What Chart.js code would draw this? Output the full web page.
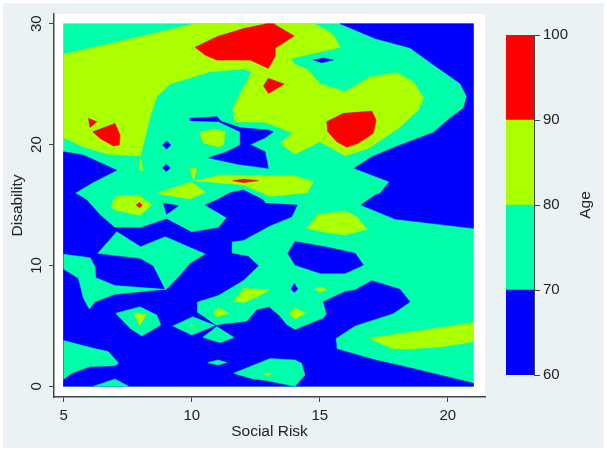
<!DOCTYPE html>
<html>
<head>
<meta charset="utf-8">
<script src="https://cdn.jsdelivr.net/npm/chart.js@4"></script>
<style>
  html, body { margin: 0; padding: 0; background: #ffffff; width: 607px; height: 452px; overflow: hidden; }
  #panel { position: absolute; left: 3px; top: 3px; width: 601px; height: 445px; background: #eaf2f3; }
  #contour { position: absolute; left: 0; top: 0; }
  #legend { position: absolute; left: 495px; top: 20px; }
</style>
</head>
<body>
<div id="panel"></div>
<canvas id="contour" width="607" height="452"></canvas>
<canvas id="legend" width="112" height="370"></canvas>
<script>
// Tick labels
const xTicks = [5, 10, 15, 20];
const yTicks = [0, 10, 20, 30];
const ageTicks = [60, 70, 80, 90, 100];

// Legend bands
const ageBands = [[60, 70], [70, 80], [80, 90], [90, 100]];

// Contour outlines as [Social Risk, Disability]
const tealBase = [[5,0],[21,0],[21,30],[5,30]];

const blueTopRight = [[15.79,30],[17.16,28.78],[18.52,28],[19.37,26.7],[20.48,25.06],[20.74,24],[20.61,23],[20.09,22.2],[19.44,21],[18.07,19.9],[17.03,19],[16.35,18.03],[17.72,16.93],[17.35,15.96],[17.16,15.83],[16.61,15],[17.94,13.84],[21,13.07],[21,30]];
const blueLower = [[5,0],[21,0],[21,0.25],[18.59,1.49],[17.16,2.18],[15.66,3.09],[15.62,3.97],[16.38,5.02],[17.87,6.04],[18.52,7],[18.13,8.02],[17.03,8.74],[16.38,7.97],[15.98,7.83],[15.14,7],[15.27,5.96],[15.14,5.62],[14.03,4.66],[13.71,5.07],[13.38,5.9],[13.02,6.53],[12.54,6.31],[12.15,5.35],[11.24,5.13],[10.95,5.02],[10.2,6.12],[10.2,7],[11.04,7.55],[12.02,8.8],[12.6,9.98],[12.21,10.73],[11.56,11],[11.56,11.97],[12.02,12.1],[13.06,13.3],[13.9,14.03],[14.12,15],[12.86,15.14],[12.8,15.41],[12.02,16.24],[11.5,16.02],[10.98,15.41],[10.52,15],[11.37,13.95],[11.04,13.12],[10,12.74],[9.02,13.84],[8,13.12],[7,13.12],[6.42,14.17],[5.9,15.41],[5.44,16],[6.16,16.91],[7.07,17.87],[5.77,19.13],[5,19.4]];
const blueCentre = [[9.93,22.17],[10.98,22.3],[11.17,21.9],[11.89,21.4],[12.97,21.2],[13.19,21.06],[12.86,20.57],[12.28,20],[12.86,19.41],[12.99,18.03],[11.76,18.39],[10.65,18.9],[11.37,19.41],[11.89,19.96],[11.89,21.06],[11.04,21.9],[9.93,21.97]];
const blueWedge = [[8.89,15.14],[9.48,14.94],[9.02,14.23]];
const blueHole = [[14.03,11.97],[15.2,11.55],[16.38,11],[16.7,10.04],[15.99,9.35],[15.01,9.35],[14.03,10.04],[13.75,11]];

const tealLeftA = [[5,10.92],[6.03,10.64],[6.22,9.9],[6.25,8.99],[7,8.33],[8.96,8.02],[7,7.61],[6.22,7],[6,6.4],[5.77,7.28],[5.57,8.93],[5,9.7]];
const tealLeftB = [[7.07,12.79],[8,11.55],[8.96,12.38],[10.52,10.95],[9.93,10.17],[9.48,9.07],[8.98,7.97],[8.5,9.98],[7.98,10.59],[6.33,11]];
const tealDiamondA = [[7.03,6.04],[7.98,6.59],[8.63,5.9],[8.79,5.07],[8.05,4.16],[7.59,4.8]];
const tealDiamondB = [[9.26,4.99],[10.04,5.76],[10.91,5.02],[10,4.25]];
const tealDiamondC = [[10.98,4.94],[11.65,4.03],[11.11,3.61],[10.43,4.05]];
const tealSpeck = [[10.63,1.96],[11.02,2.18],[11.37,1.96],[11.02,1.76]];
const tealCornerA = [[5,3.78],[6.16,3.14],[6.74,2.87],[7.14,1.9],[7,1.7],[6.03,1.63],[5.31,1.08],[5,0.58]];
const tealCornerB = [[6.16,0],[7,0.6],[7.53,0]];
const tealFoot = [[11.63,1.08],[12.28,1.63],[13.06,2.3],[14.03,2.18],[14.29,1.9],[14.42,0.94],[14.03,0],[12.86,0.5],[12.41,0.6]];

const limeMain = [[5,27.47],[10.13,30],[14.75,30],[15.27,29.47],[15.53,29.06],[15.79,28.04],[13.9,27.13],[13.97,26.72],[14.55,26.16],[15,25.06],[15.99,24.37],[16.96,25.6],[18,25.97],[18.65,25.2],[19.05,23.9],[18.85,22.86],[18.07,21.34],[16.9,19.69],[15.99,19.08],[15,20.24],[14.03,19.2],[13.45,20.1],[13.93,20.98],[12.86,21.84],[11.69,21.89],[11.6,22.99],[12.34,26.03],[12.02,26.25],[10.72,26.03],[9.15,25],[8.63,23.96],[8.37,22.3],[8,19.05],[6.74,19.2],[5.77,19.82],[5,20.54]];
const limeIsland = [[10.3,20.98],[10.85,21.26],[11.3,21.06],[11.24,19.96],[11.04,19.82],[10.46,20.1]];
const limeSliver = [[8,18.86],[8.09,17.84],[7.94,17.95]];
const limeSpike = [[9.93,18.03],[10.2,18.03],[10.07,17.01]];
const limeKite = [[8.63,15.96],[10,16.93],[10.52,16.05],[9.93,15.5]];
const limeStrip = [[10.13,17],[11.1,17.48],[14.03,17.42],[14.75,16.93],[14.5,16.02],[13.06,15.71],[12.02,16.65]];
const limeLeftBlob = [[6.85,14.86],[7,15.69],[7.92,15.83],[8.44,15],[7.98,14.12],[7,14.58]];
const limeMidBlob = [[14.49,13.07],[14.94,14.23],[15.99,14.5],[16.44,14.03],[16.83,12.99],[15.99,12.52],[15.2,12.74]];
const limeDashA = [[11.63,7],[12.02,8.1],[13.05,8],[12.8,7.69],[12.08,6.95]];
const limeDashB = [[10.85,6.04],[11.04,6.5],[11.43,6.04],[10.98,5.76]];
const limeDashC = [[7.72,6.04],[8.24,6.04],[7.98,5.02]];
const limeDashD = [[14.81,8.02],[15.05,8.24],[15.27,7.97],[15,7.78]];
const limeDashE = [[13.8,6.04],[14.03,6.5],[14.45,6.04],[14.03,5.57]];
const limeRight = [[16.92,3.97],[21,5.27],[21,3.69],[19.76,3.28],[18.33,3.06],[17.8,3.14]];
const limeDotA = [[9.95,4.99],[10.03,5.05],[10.1,4.97],[10.02,4.9]];
const limeDotB = [[12.8,1],[12.95,1.15],[13.1,1.02],[12.95,0.9]];

const redTop = [[10.13,28.04],[10.98,28.92],[12.02,29.6],[12.93,30],[13.19,30],[14,28.98],[13.25,27.96],[13.25,27.27],[12.99,26.3],[12.28,26.99],[10.98,26.99],[10.52,27.4]];
const redSmall = [[12.99,25.48],[13.61,25],[13,24.23],[12.8,24.85]];
const redRight = [[15.27,21.89],[15.92,22.58],[17.03,22.77],[17.2,22.03],[17.09,20.93],[16.5,20.1],[16.05,19.77],[15.66,20.24],[15.31,21.06]];
const redTick = [[5.96,22.17],[6.29,21.89],[6.03,21.42]];
const redLeft = [[6.13,21.06],[7,21.75],[7.2,20.79],[7.17,19.96],[6.94,19.88],[6.42,20.51]];
const redFlat = [[11.6,17.01],[12.02,17.15],[12.6,17.01],[12.02,16.85]];
const redDot = [[7.83,15],[7.96,15.22],[8.07,15],[7.96,14.78]];

const blueDotA = [[9.02,20.29],[9.18,19.96],[9.02,19.63],[8.86,19.96]];
const blueDotB = [[9.01,18.36],[9.16,18.06],[9.01,17.76],[8.86,18.06]];
const blueDash = [[14.75,27],[15.14,27.15],[15.53,27],[15.07,26.77]];
const blueDrop = [[13.88,8.05],[14,8.5],[14.14,8.05],[14,7.77]];

const BLUE = '#0000ff', TEAL = '#00ffaa', LIME = '#aaff00', RED = '#ff0000';
const AXIS = '#3f4648', TEXT = '#222222';
const FONT = 'Liberation Sans';

// bottom to top, later ones paint over earlier ones
const layers = [
    [tealBase, TEAL],
    [blueTopRight, BLUE], [blueLower, BLUE], [blueCentre, BLUE], [blueWedge, BLUE], [blueHole, BLUE],
    [tealLeftA, TEAL], [tealLeftB, TEAL], [tealDiamondA, TEAL], [tealDiamondB, TEAL], [tealDiamondC, TEAL],
    [tealSpeck, TEAL], [tealCornerA, TEAL], [tealCornerB, TEAL], [tealFoot, TEAL],
    [limeMain, LIME], [limeIsland, LIME], [limeSliver, LIME], [limeSpike, LIME], [limeKite, LIME], [limeStrip, LIME],
    [limeLeftBlob, LIME], [limeMidBlob, LIME], [limeDashA, LIME], [limeDashB, LIME], [limeDashC, LIME], [limeDashD, LIME],
    [limeDashE, LIME], [limeRight, LIME], [limeDotA, LIME], [limeDotB, LIME],
    [redTop, RED], [redSmall, RED], [redRight, RED], [redTick, RED], [redLeft, RED], [redFlat, RED], [redDot, RED],
    [blueDotA, BLUE], [blueDotB, BLUE], [blueDash, BLUE], [blueDrop, BLUE]
];

const contourDatasets = layers.map(([outline, color], i) => ({
    data: outline.concat([outline[0]]).map(p => ({ x: p[0], y: p[1] })),
    showLine: true,
    fill: 'shape',
    backgroundColor: color,
    borderColor: color,
    borderWidth: 0.5,
    pointRadius: 0,
    tension: 0,
    order: layers.length - i
}));

// white plot region behind the contours
const plotBackground = {
    id: 'plotBackground',
    beforeDraw(chart) {
        const { ctx, chartArea: a } = chart;
        ctx.save();
        ctx.fillStyle = '#ffffff';
        ctx.fillRect(a.left, a.top, a.right - a.left, a.bottom - a.top);
        ctx.restore();
    }
};

// a right-hand scale title reads top to bottom, this one has to read upwards
const ageTitle = {
    id: 'ageTitle',
    afterDraw(chart) {
        const { ctx, chartArea: a } = chart;
        ctx.save();
        ctx.translate(chart.width - 21, (a.top + a.bottom) / 2);
        ctx.rotate(-Math.PI / 2);
        ctx.textAlign = 'center';
        ctx.textBaseline = 'middle';
        ctx.fillStyle = TEXT;
        ctx.font = `15.5px "${FONT}"`;
        ctx.fillText('Age', 0, 0);
        ctx.restore();
    }
};

new Chart(document.getElementById('contour'), {
    type: 'scatter',
    data: { datasets: contourDatasets },
    plugins: [plotBackground],
    options: {
        responsive: false,
        animation: false,
        layout: { padding: { top: 14, right: 122, left: 0, bottom: 0 } },
        plugins: { legend: { display: false }, tooltip: { enabled: false } },
        scales: {
            x: {
                min: 4.62,
                max: 21.45,
                afterBuildTicks: axis => { axis.ticks = xTicks.map(v => ({ value: v })); },
                afterFit: axis => { axis.height = 55; },
                grid: { drawOnChartArea: false, color: AXIS, tickLength: 5 },
                border: { display: true, color: AXIS, width: 1.5 },
                ticks: { color: TEXT, padding: 5, maxRotation: 0, font: { family: FONT, size: 15 } },
                title: { display: true, text: 'Social Risk', color: TEXT, padding: { top: 0, bottom: 11 }, font: { family: FONT, size: 15.5 } }
            },
            y: {
                min: -0.885,
                max: 30.8,
                afterBuildTicks: axis => { axis.ticks = yTicks.map(v => ({ value: v })); },
                afterFit: axis => { axis.width = 54; },
                grid: { drawOnChartArea: false, color: AXIS, tickLength: 5 },
                border: { display: true, color: AXIS, width: 1.5 },
                ticks: { color: TEXT, padding: 4, minRotation: 90, maxRotation: 90, align: 'center', crossAlign: 'center', font: { family: FONT, size: 15 } },
                title: { display: true, text: 'Disability', color: TEXT, padding: { top: 8, bottom: 0 }, font: { family: FONT, size: 15.5 } }
            }
        }
    }
});

const bandColors = [BLUE, TEAL, LIME, RED];

new Chart(document.getElementById('legend'), {
    type: 'bar',
    data: {
        labels: [''],
        datasets: ageBands.map((band, i) => ({
            data: [band],
            backgroundColor: bandColors[i],
            barPercentage: 1,
            categoryPercentage: 1,
            grouped: false
        }))
    },
    plugins: [ageTitle],
    options: {
        responsive: false,
        animation: false,
        layout: { padding: { left: 11, top: 15, right: 0, bottom: 15 } },
        plugins: { legend: { display: false }, tooltip: { enabled: false } },
        scales: {
            x: { display: false },
            y: {
                position: 'right',
                min: 60,
                max: 100,
                afterBuildTicks: axis => { axis.ticks = ageTicks.map(v => ({ value: v })); },
                afterFit: axis => { axis.width = 73; },
                grid: { drawOnChartArea: false, color: AXIS, tickLength: 6 },
                border: { display: true, color: AXIS, width: 1 },
                ticks: { color: TEXT, padding: 3, font: { family: FONT, size: 15 } }
            }
        }
    }
});
</script>
</body>
</html>
